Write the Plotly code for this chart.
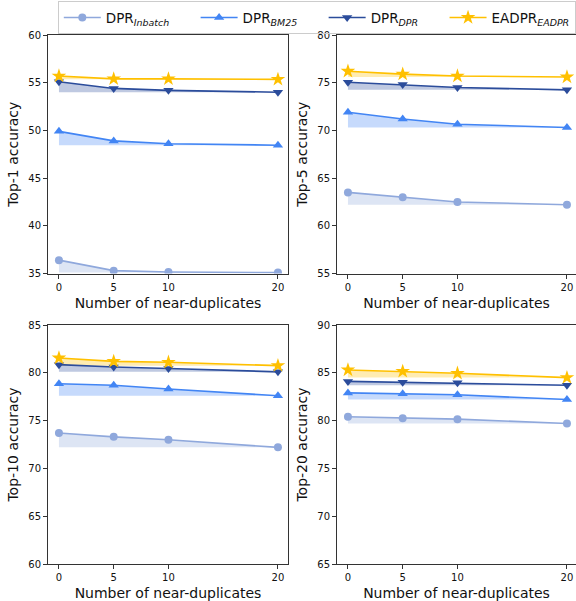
import plotly.graph_objects as go

x_vals = [0, 5, 10, 20]
x_ticks = [0, 5, 10, 20]

pad = "\u00a0" * 5
series_names = ["DPR<sub><i>Inbatch</i></sub>" + pad, "DPR<sub><i>BM25</i></sub>" + pad,
                "DPR<sub><i>DPR</i></sub>" + pad, "EADPR<sub><i>EADPR</i></sub>"]

top1_inbatch = [36.4, 35.3, 35.15, 35.1]
top1_bm25 = [49.9, 48.9, 48.6, 48.45]
top1_dpr = [55.1, 54.4, 54.2, 54.0]
top1_eadpr = [55.7, 55.4, 55.4, 55.35]

top5_inbatch = [63.5, 63.0, 62.5, 62.2]
top5_bm25 = [71.9, 71.2, 70.65, 70.3]
top5_dpr = [75.05, 74.8, 74.5, 74.25]
top5_eadpr = [76.2, 75.9, 75.7, 75.6]

top10_inbatch = [73.7, 73.3, 73.0, 72.2]
top10_bm25 = [78.85, 78.7, 78.3, 77.6]
top10_dpr = [80.85, 80.6, 80.45, 80.1]
top10_eadpr = [81.55, 81.2, 81.1, 80.75]

top20_inbatch = [80.4, 80.25, 80.15, 79.7]
top20_bm25 = [82.9, 82.8, 82.7, 82.2]
top20_dpr = [84.1, 84.0, 83.95, 83.7]
top20_eadpr = [85.3, 85.15, 84.95, 84.5]

panel_titles = ["Top-1 accuracy", "Top-5 accuracy", "Top-10 accuracy", "Top-20 accuracy"]
panel_ranges = [[35, 60], [55, 80], [60, 85], [65, 90]]
panel_data = [
    [top1_inbatch, top1_bm25, top1_dpr, top1_eadpr],
    [top5_inbatch, top5_bm25, top5_dpr, top5_eadpr],
    [top10_inbatch, top10_bm25, top10_dpr, top10_eadpr],
    [top20_inbatch, top20_bm25, top20_dpr, top20_eadpr],
]

colors = ["#8FA8DC", "#4285F4", "#2B4C9B", "#FFC000"]
fills = ["rgba(143,168,220,0.30)", "rgba(66,133,244,0.30)",
         "rgba(43,76,155,0.30)", "rgba(255,192,0,0.30)"]
symbols = ["circle", "triangle-up", "triangle-down", "star"]
msizes = [8, 9, 9, 11]

W, H = 576, 601
# pixel boxes (left, right, top, bottom)
boxes = [(48, 288, 35, 273.5), (337, 576, 35, 273.5),
         (48, 288, 325, 564), (337, 576, 325, 564)]

fig = go.Figure()
font_family = "DejaVu Sans"
ppu = 10.95

for i, (data, ttl, rng, box) in enumerate(zip(panel_data, panel_titles, panel_ranges, boxes)):
    ax = "" if i == 0 else str(i + 1)
    xa, ya = "x" + ax, "y" + ax
    for j, ys in enumerate(data):
        base = min(ys)
        fig.add_trace(go.Scatter(x=x_vals, y=[base] * len(ys), mode="lines",
                                 line=dict(width=0), showlegend=False, hoverinfo="skip",
                                 xaxis=xa, yaxis=ya))
        fig.add_trace(go.Scatter(x=x_vals, y=ys, mode="lines", fill="tonexty",
                                 fillcolor=fills[j], line=dict(width=0),
                                 showlegend=False, hoverinfo="skip",
                                 xaxis=xa, yaxis=ya))
    for j, ys in enumerate(data):
        fig.add_trace(go.Scatter(x=x_vals, y=ys, mode="lines+markers",
                                 name=series_names[j],
                                 line=dict(color=colors[j], width=1.6),
                                 marker=dict(symbol=symbols[j], size=msizes[j], color=colors[j]),
                                 showlegend=(i == 0), xaxis=xa, yaxis=ya))
    l, r, t, b = box
    xr = [-1.0, -1.0 + (r - l) / ppu]
    xkey = "xaxis" if i == 0 else "xaxis" + str(i + 1)
    ykey = "yaxis" if i == 0 else "yaxis" + str(i + 1)
    fig.layout[xkey] = dict(
        domain=[l / W, min(r / W, 1.0)], anchor=ya, range=xr, automargin=False,
        tickvals=x_ticks, ticks="outside", ticklen=4, tickwidth=1, tickcolor="#333",
        showline=True, linecolor="#333", linewidth=1, mirror=True,
        showgrid=False, zeroline=False,
        tickfont=dict(family=font_family, size=10, color="#111"),
        title=dict(text="Number of near-duplicates",
                   font=dict(family=font_family, size=14, color="#111"), standoff=6),
    )
    fig.layout[ykey] = dict(
        domain=[1 - b / H, 1 - t / H], anchor=xa, range=rng, automargin=False,
        tickvals=list(range(rng[0], rng[1] + 1, 5)),
        ticks="outside", ticklen=4, tickwidth=1, tickcolor="#333",
        showline=True, linecolor="#333", linewidth=1, mirror=(i % 2 == 0),
        showgrid=False, zeroline=False,
        tickfont=dict(family=font_family, size=10, color="#111"),
        title=dict(text=ttl, font=dict(family=font_family, size=14, color="#111"), standoff=6),
    )

fig.update_layout(
    width=W, height=H,
    margin=dict(l=0, r=0, t=0, b=0, autoexpand=False),
    paper_bgcolor="white", plot_bgcolor="white",
    font=dict(family=font_family, color="#111"),
    legend=dict(orientation="h", x=0.550, xanchor="center", y=0.998, yanchor="top",
                traceorder="normal",
                bgcolor="rgba(255,255,255,0)", bordercolor="#cccccc", borderwidth=1,
                font=dict(family=font_family, size=13.5, color="#111"),
                itemwidth=37),
)

fig.write_html("out.html",
               config={"displayModeBar": False},
               post_script="document.body.style.margin='0';document.body.style.overflow='hidden';")
